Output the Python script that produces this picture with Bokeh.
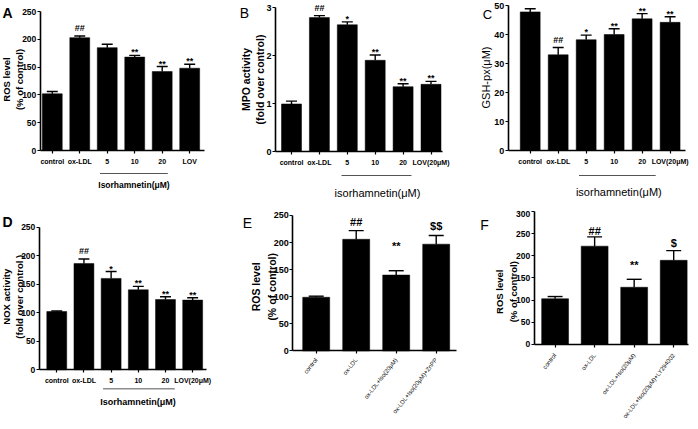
import math
from bokeh.plotting import figure
from bokeh.models import Range1d, FixedTicker, ColumnDataSource
from bokeh.layouts import column, row
from bokeh.core.properties import value
from bokeh.embed import file_html
from bokeh.resources import INLINE

FONT = "Liberation Sans"

# ---------------- data ----------------
A_labels = ["control", "ox-LDL", "5", "10", "20", "LOV"]
A_vals = [102, 203, 185, 168, 142, 148]
A_err = [4, 3, 6, 3, 9, 7]
A_sig = ["", "##", "", "**", "**", "**"]
A_yticks = [0, 50, 100, 150, 200, 250]

B_labels = ["control", "ox-LDL", "5", "10", "20", "LOV(20μM)"]
B_vals = [0.99, 2.79, 2.64, 1.90, 1.35, 1.40]
B_err = [0.06, 0.04, 0.06, 0.11, 0.06, 0.06]
B_sig = ["", "##", "*", "**", "**", "**"]
B_yticks = [0, 1, 2, 3]

C_labels = ["control", "ox-LDL", "5", "10", "20", "LOV(20μM)"]
C_vals = [47.8, 33.0, 38.2, 40.0, 45.4, 44.2]
C_err = [1.1, 2.5, 1.6, 2.0, 1.8, 1.9]
C_sig = ["", "##", "*", "**", "**", "**"]
C_yticks = [0, 10, 20, 30, 40, 50]

D_labels = ["control", "ox-LDL", "5", "10", "20", "LOV(20μM)"]
D_vals = [102, 186, 160, 140, 123, 122]
D_err = [1, 8, 12, 6, 5, 4]
D_sig = ["", "##", "*", "**", "**", "**"]
D_yticks = [0, 50, 100, 150, 200, 250]

E_labels = ["control", "ox-LDL", "ox-LDL+Iso(20μM)", "ox-LDL+Iso(20μM)+ZnPP"]
E_vals = [99, 206, 140, 197]
E_err = [2, 16, 8, 16]
E_sig = ["", "##", "**", "$$"]
E_yticks = [0, 50, 100, 150, 200, 250]

F_labels = ["control", "ox-LDL", "ox-LDL+Iso(20μM)", "ox-LDL+Iso(20μM)+LY294002"]
F_vals = [103, 222, 129, 190]
F_err = [5, 21, 18, 22]
F_sig = ["", "##", "**", "$"]
F_yticks = [0, 50, 100, 150, 200, 250, 300]


def make_panel(W, H, reg, g, labels, vals, errs, sigs, yticks):
    tx0, ty0, tx1, ty1 = reg
    a, b = g["a"], g["b"]
    vpp = g["top"] / (g["y0"] - g["ytop"])

    def fx(px):
        return (px - a) / b

    def fy(py):
        return (g["y0"] - py) * vpp

    p = figure(width=W, height=H, x_range=Range1d(fx(tx0), fx(tx1)),
               y_range=Range1d(fy(ty1), fy(ty0)), output_backend="svg",
               toolbar_location=None, min_border=0)
    p.outline_line_color = None
    p.grid.visible = False
    p.background_fill_color = "white"
    p.border_fill_color = "white"

    n = len(labels)
    idx = list(range(n))
    tops = [v + e for v, e in zip(vals, errs)]
    cw = g["cap"] / 2 / b
    gaps = g.get("gaps", [None] * n)
    sfs = g["sfs"]
    sig_y = []
    for i, (s, t) in enumerate(zip(sigs, tops)):
        gap = gaps[i]
        if gap is None:
            gap = 3 if "*" in s else 4
        lift = gap + (0 if "*" in s else 0.4 * sfs)
        sig_y.append(t + lift * vpp)
    src = ColumnDataSource(dict(x=idx, top=vals, et=tops,
                                xl=[i - cw for i in idx], xr=[i + cw for i in idx],
                                sig=sigs, sy=sig_y))
    p.vbar(x="x", top="top", bottom=0, width=g["bw"] / b, source=src,
           fill_color="black", line_color="black", line_width=0.5)
    p.segment(x0="x", y0="top", x1="x", y1="et", source=src, line_color="black", line_width=1.4)
    p.segment(x0="xl", y0="et", x1="xr", y1="et", source=src, line_color="black", line_width=1.4)
    p.text(x="x", y="sy", text="sig", source=src, text_font=value(FONT),
           text_font_size=f"{sfs}px", text_font_style="bold",
           text_align="center", text_baseline="alphabetic", text_color="black")

    xa = p.xaxis[0]
    xa.fixed_location = 0
    xa.ticker = FixedTicker(ticks=idx)
    xa.major_label_overrides = {i: l for i, l in enumerate(labels)}
    xa.bounds = (fx(g["ax"]), fx(g["axend"]))
    xa.axis_line_width = 1.6
    xa.axis_line_color = "black"
    xa.major_tick_line_color = "black"
    xa.major_tick_line_width = 1.2
    xa.major_tick_out = 3
    xa.major_tick_in = 0
    xa.minor_tick_line_color = None
    xa.major_label_standoff = g.get("xstand", 4)
    xa.major_label_text_font = FONT
    xa.major_label_text_font_size = g["xfs"]
    xa.major_label_text_font_style = g.get("xstyle", "bold")
    xa.major_label_text_color = "black"
    if g.get("rot"):
        xa.major_label_orientation = math.radians(g["rot"])

    ya = p.yaxis[0]
    ya.fixed_location = fx(g["ax"])
    ya.ticker = FixedTicker(ticks=yticks)
    ya.bounds = (0, g["top"])
    ya.axis_line_width = 1.6
    ya.axis_line_color = "black"
    ya.major_tick_line_color = "black"
    ya.major_tick_line_width = 1.2
    ya.major_tick_out = 3
    ya.major_tick_in = 0
    ya.minor_tick_line_color = None
    ya.major_label_standoff = 1
    ya.major_label_text_font = FONT
    ya.major_label_text_font_size = g["yfs"]
    ya.major_label_text_font_style = "bold"
    ya.major_label_text_color = "black"

    for (txt, px, py, fs, st) in g["ylab"]:
        p.text(x=[fx(px)], y=[fy(py)], text=[txt], angle=math.pi / 2,
               text_font=value(FONT), text_font_size=fs, text_font_style=st,
               text_align="center", text_baseline="middle", text_color="black")

    if g.get("group"):
        gx0, gx1, gyl, gtxt, gtx, gty, gfs, gst = g["group"]
        p.segment(x0=[fx(gx0)], y0=[fy(gyl)], x1=[fx(gx1)], y1=[fy(gyl)],
                  line_color="#555555", line_width=1)
        p.text(x=[fx(gtx)], y=[fy(gty)], text=[gtxt], text_font=value(FONT),
               text_font_size=gfs, text_font_style=gst, text_align="center",
               text_baseline="middle", text_color="black")

    ltxt, lx, ly, lfs, lst = g["letter"]
    p.text(x=[fx(lx)], y=[fy(ly)], text=[ltxt], text_font=value(FONT),
           text_font_size=lfs, text_font_style=lst, text_align="center",
           text_baseline="middle", text_color="black")
    return p


gA = dict(a=52, b=27.6, y0=150, ytop=11, top=250, ax=40, axend=205, bw=20, cap=11,
          sfs=9, xfs="7px", yfs="8.5px",
          ylab=[("ROS level", 6.5, 79, "9.5px", "bold"), ("(% of control)", 19, 79, "9.5px", "bold")],
          group=(100, 168, 173, "Isorhamnetin(μM)", 134, 184, "8.5px", "bold"),
          letter=("A", 7, 12, "14px", "bold"))
gB = dict(a=292, b=27.9, y0=151, ytop=7, top=3, ax=276, axend=443, bw=20, cap=11,
          sfs=9, xfs="7px", yfs="9px",
          ylab=[("MPO activity", 246.5, 79, "10.5px", "bold"), ("(fold over control)", 260, 79, "10.5px", "bold")],
          group=(342, 412, 175, "isorhamnetin(μM)", 378, 192, "11px", "normal"),
          letter=("B", 245, 12, "14px", "normal"))
gC = dict(a=531, b=28.1, y0=150, ytop=5, top=50, ax=509, axend=687, bw=20, cap=11,
          sfs=9, xfs="7px", yfs="9px",
          ylab=[("GSH-px(μM)", 487, 77, "11px", "normal")],
          group=(580, 657, 175, "isorhamnetin(μM)", 620, 191, "11px", "normal"),
          letter=("C", 488, 14, "13px", "normal"))
gD = dict(a=56.5, b=27.3, y0=370.7, ytop=226.7, top=250, ax=39, axend=207, bw=20, cap=11,
          sfs=9, xfs="7px", yfs="8.5px",
          ylab=[("NOX activity", 6.5, 297, "9.5px", "bold"), ("(fold over control )", 19, 297, "9.5px", "bold")],
          group=(103, 175, 390, "Isorhamnetin(μM)", 138, 403, "9px", "bold"),
          letter=("D", 7, 222, "14px", "bold"))
gE = dict(a=316.7, b=40, y0=351.7, ytop=215, top=250, ax=293.3, axend=456.7, bw=27, cap=15,
          sfs=11, xfs="6px", yfs="9px", xstyle="normal", rot=52, xstand=5,
          gaps=[None, 4, 25, 5],
          ylab=[("ROS level", 256, 287, "10.5px", "bold"), ("(% of control)", 272.5, 287, "10.5px", "bold")],
          letter=("E", 248, 223, "14px", "normal"))
gF = dict(a=556, b=39.7, y0=345, ytop=211.2, top=300, ax=535, axend=690, bw=27, cap=15,
          sfs=11, xfs="6px", yfs="8.5px", xstyle="normal", rot=52, xstand=7,
          gaps=[None, 2, 14, 3],
          ylab=[("ROS level", 500, 292, "9.5px", "bold"), ("(% of control)", 514.5, 292, "9.5px", "bold")],
          letter=("F", 485, 225, "14px", "normal"))

pA = make_panel(232, 210, (0, 0, 233, 210), gA, A_labels, A_vals, A_err, A_sig, A_yticks)
pB = make_panel(230, 210, (233, 0, 463, 210), gB, B_labels, B_vals, B_err, B_sig, B_yticks)
pC = make_panel(234, 210, (463, 0, 698, 210), gC, C_labels, C_vals, C_err, C_sig, C_yticks)
pD = make_panel(232, 217, (0, 210, 233, 429), gD, D_labels, D_vals, D_err, D_sig, D_yticks)
pE = make_panel(230, 217, (233, 210, 463, 429), gE, E_labels, E_vals, E_err, E_sig, E_yticks)
pF = make_panel(234, 217, (463, 210, 698, 429), gF, F_labels, F_vals, F_err, F_sig, F_yticks)

layout = column(row(pA, pB, pC, spacing=0), row(pD, pE, pF, spacing=0), spacing=0)

open("out.html", "w").write(file_html(layout, INLINE))
